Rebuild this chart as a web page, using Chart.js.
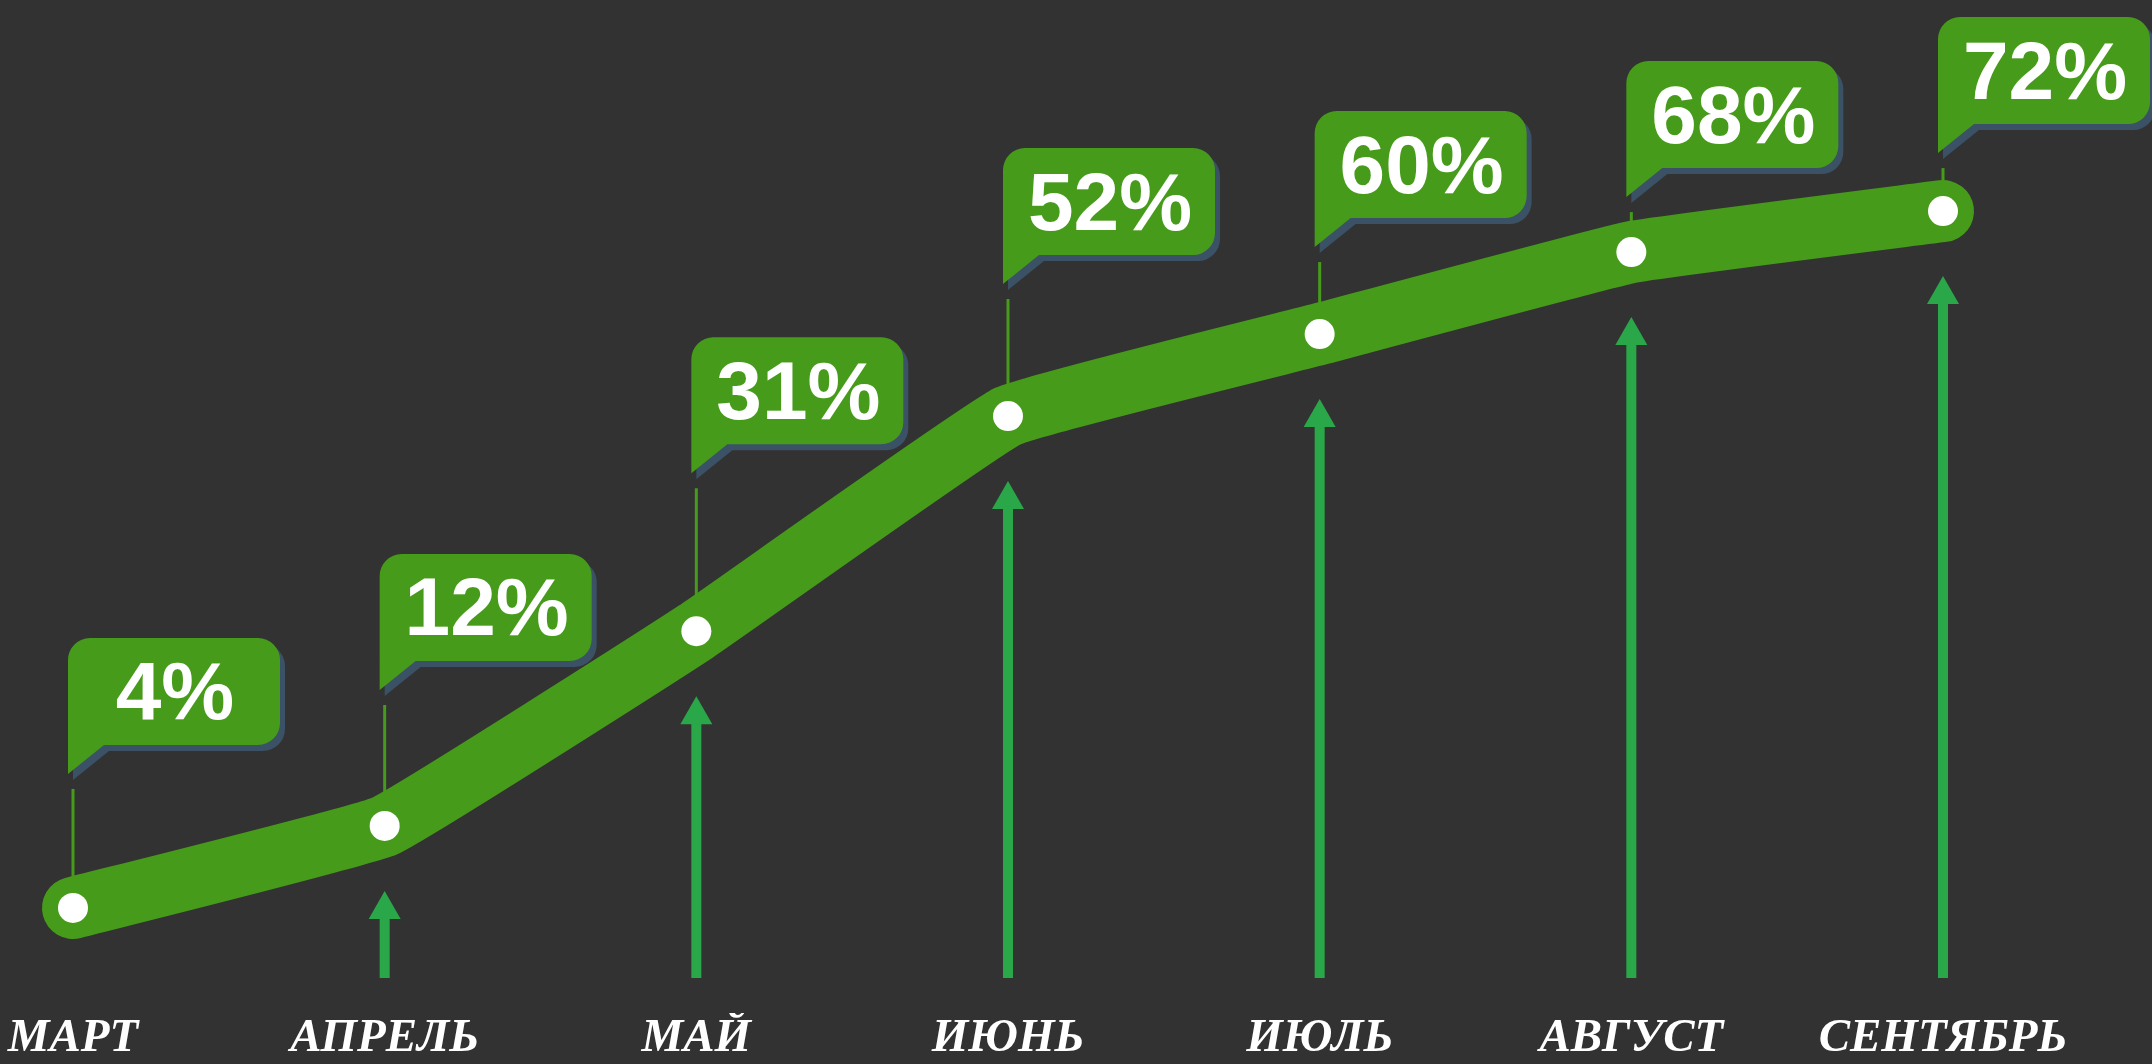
<!DOCTYPE html>
<html><head><meta charset="utf-8">
<script src="https://cdn.jsdelivr.net/npm/chart.js@4.4.1/dist/chart.umd.min.js"></script>
<style>html,body{margin:0;padding:0;background:#323232;overflow:hidden}#wrap{width:2152px;height:1064px;position:relative}</style>
</head><body><div id="wrap"><canvas id="c"></canvas></div>
<script>
const months = ['МАРТ','АПРЕЛЬ','МАЙ','ИЮНЬ','ИЮЛЬ','АВГУСТ','СЕНТЯБРЬ'];
const percentValues = [4, 12, 31, 52, 60, 68, 72];
const calloutLabels = ['4%','12%','31%','52%','60%','68%','72%'];
const showArrow = [false, true, true, true, true, true, true];

const LINE_GREEN = '#479b1b';
const ARROW_GREEN = '#2aa748';

const calloutPlugin = {
  id: 'callouts',
  beforeDatasetsDraw(chart, args, opts) {
    const ctx = chart.ctx;
    const meta = chart.getDatasetMeta(0);
    const bottom = chart.chartArea.bottom - 35;
    ctx.save();
    meta.data.forEach((pt, i) => {
      const tipY = pt.y - opts.lift[i];
      ctx.strokeStyle = LINE_GREEN;
      ctx.lineWidth = 3;
      ctx.beginPath();
      ctx.moveTo(pt.x, tipY + 15);
      ctx.lineTo(pt.x, pt.y);
      ctx.stroke();
      if (!showArrow[i]) return;
      const tip = pt.y + 65;
      ctx.fillStyle = ARROW_GREEN;
      ctx.fillRect(pt.x - 5, tip + 26, 10, bottom - tip - 26);
      ctx.beginPath();
      ctx.moveTo(pt.x, tip);
      ctx.lineTo(pt.x + 16, tip + 28);
      ctx.lineTo(pt.x - 16, tip + 28);
      ctx.closePath();
      ctx.fill();
    });
    ctx.restore();
  },
  afterDatasetsDraw(chart, args, opts) {
    const ctx = chart.ctx;
    const meta = chart.getDatasetMeta(0);
    const W = 212, H = 107, r = 22, tailW = 36, tailH = 29;
    function shape(L, T) {
      const R = L + W, B = T + H;
      ctx.beginPath();
      ctx.moveTo(L, T + r);
      ctx.arcTo(L, T, L + r, T, r);
      ctx.lineTo(R - r, T);
      ctx.arcTo(R, T, R, T + r, r);
      ctx.lineTo(R, B - r);
      ctx.arcTo(R, B, R - r, B, r);
      ctx.lineTo(L + tailW, B);
      ctx.lineTo(L, B + tailH);
      ctx.closePath();
    }
    ctx.save();
    meta.data.forEach((pt, i) => {
      const tipY = pt.y - opts.lift[i];
      const L = pt.x - 5;
      const T = tipY - tailH - H;
      shape(L + 5, T + 6);
      ctx.fillStyle = '#3a5166';
      ctx.fill();
      shape(L, T);
      ctx.fillStyle = LINE_GREEN;
      ctx.fill();
      ctx.fillStyle = '#ffffff';
      ctx.font = 'bold 82px "Liberation Sans", Arial, sans-serif';
      ctx.textAlign = 'center';
      ctx.textBaseline = 'alphabetic';
      ctx.fillText(calloutLabels[i], L + W / 2 + 1, T + H / 2 + 28);
    });
    ctx.restore();
  }
};

new Chart(document.getElementById('c'), {
  type: 'line',
  data: {
    labels: months,
    datasets: [{
      data: percentValues,
      borderColor: LINE_GREEN,
      borderWidth: 62,
      borderCapStyle: 'round',
      borderJoinStyle: 'round',
      tension: 0.08,
      pointRadius: 15,
      pointHoverRadius: 15,
      pointBackgroundColor: '#ffffff',
      pointBorderWidth: 0,
      clip: false
    }]
  },
  options: {
    responsive: true,
    maintainAspectRatio: false,
    animation: false,
    events: [],
    layout: { autoPadding: false, padding: { left: 73, right: 209, top: 0, bottom: 0 } },
    plugins: {
      legend: { display: false },
      tooltip: { enabled: false },
      callouts: { lift: [134, 136, 158, 132, 87, 55, 58] }
    },
    scales: {
      x: {
        type: 'category',
        offset: false,
        grid: { display: false, drawTicks: false },
        border: { display: false },
        afterFit: (scale) => { scale.paddingLeft = 0; scale.paddingRight = 0; },
        ticks: {
          color: '#ffffff',
          font: { family: '"Liberation Serif", serif', style: 'italic', weight: 'bold', size: 47, lineHeight: 1.0 },
          padding: 2,
          maxRotation: 0,
          autoSkip: false
        }
      },
      y: { display: false, min: -6.25, max: 92.6 }
    }
  },
  plugins: [calloutPlugin]
});
</script>
</body></html>
